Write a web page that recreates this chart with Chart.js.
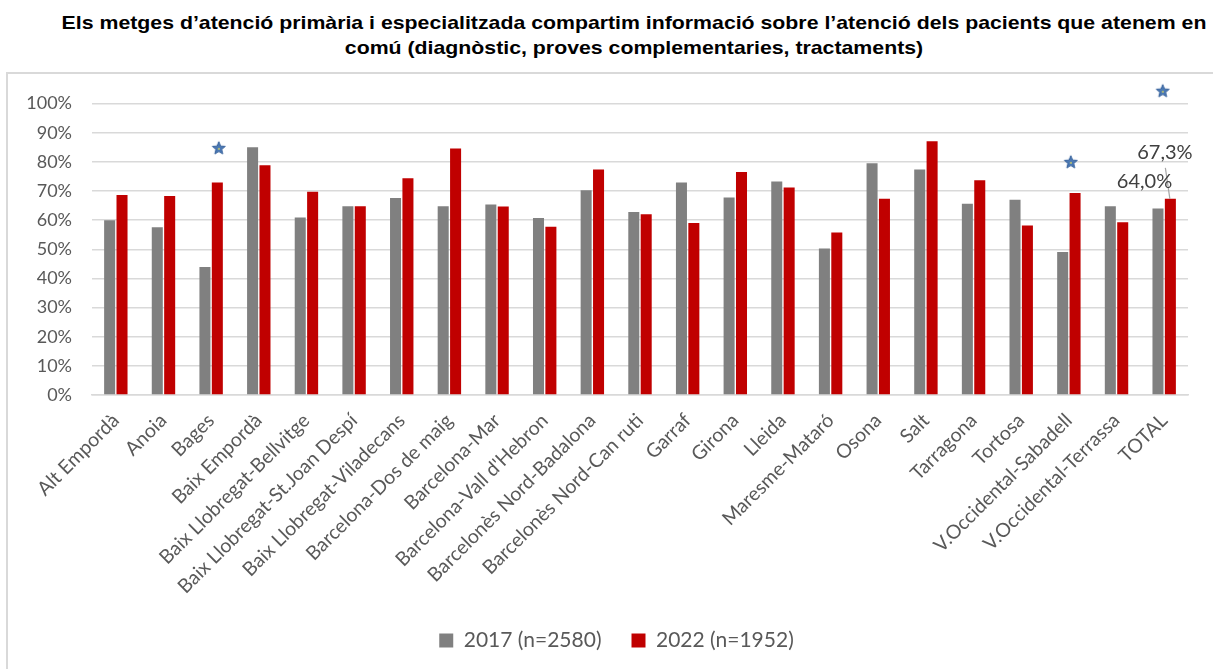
<!DOCTYPE html>
<html lang="ca">
<head>
<meta charset="utf-8">
<script src="https://cdn.jsdelivr.net/npm/chart.js@4/dist/chart.umd.min.js"></script>
<style>
  html, body { margin: 0; padding: 0; background: #ffffff; }
  body { width: 1213px; height: 669px; position: relative; overflow: hidden; }
  #title {
    position: absolute; left: 55px; top: 10px; width: 1158px;
    font: bold 19px "Liberation Sans", Arial, sans-serif; line-height: 25px;
    color: #000; text-align: center; white-space: nowrap;
    transform: scaleX(1.12); transform-origin: 579px 0;
  }
  #frame {
    position: absolute; left: 6px; top: 72px; width: 1300px; height: 700px;
    border: 2px solid #d9d9d9; box-sizing: border-box;
  }
  #wrap { position: absolute; left: 0; top: 0; width: 1213px; height: 669px; }
</style>
</head>
<body>
<div id="title">Els metges d’atenció primària i especialitzada compartim informació sobre l’atenció dels pacients que atenem en<br>comú (diagnòstic, proves complementaries, tractaments)</div>
<div id="frame"></div>
<div id="wrap"><canvas id="chart"></canvas></div>
<script>
// Health areas (categories) and the share of doctors agreeing, per survey year
const categories = [
  'Alt Empordà', 'Anoia', 'Bages', 'Baix Empordà', 'Baix Llobregat-Bellvitge',
  'Baix Llobregat-St.Joan Despí', 'Baix Llobregat-Viladecans', 'Barcelona-Dos de maig',
  'Barcelona-Mar', "Barcelona-Vall d'Hebron", 'Barcelonès Nord-Badalona',
  'Barcelonès Nord-Can ruti', 'Garraf', 'Girona', 'Lleida', 'Maresme-Mataró', 'Osona',
  'Salt', 'Tarragona', 'Tortosa', 'V.Occidental-Sabadell', 'V.Occidental-Terrassa', 'TOTAL'
];
const values2017 = [60.0, 57.6, 43.9, 85.0, 60.9, 64.8, 67.6, 64.8, 65.4, 60.7, 70.3, 62.8,
                    72.9, 67.8, 73.3, 50.3, 79.5, 77.4, 65.6, 67.0, 49.1, 64.8, 64.0];
const values2022 = [68.6, 68.3, 72.9, 78.8, 69.7, 64.8, 74.4, 84.6, 64.7, 57.7, 77.4, 62.0,
                    59.0, 76.5, 71.2, 55.8, 67.3, 87.1, 73.7, 58.2, 69.3, 59.3, 67.3];
const seriesNames = ['2017 (n=2580)', '2022 (n=1952)'];
const yTicks = [0, 10, 20, 30, 40, 50, 60, 70, 80, 90, 100];
// Significance markers: area, position offset within the category, height
const starCategories = ['Bages', 'V.Occidental-Sabadell', 'TOTAL'];
const starShift = [0.16, 0.04, -0.03];
const starHeights = [84.8, 80.0, 104.4];

const FONT = 'Lato, "Open Sans", sans-serif';
const AXIS_GREY = '#595959';

function starGlyph() {
  const c = document.createElement('canvas');
  c.width = 16; c.height = 16;
  const g = c.getContext('2d');
  g.beginPath();
  for (let i = 0; i < 10; i++) {
    const r = i % 2 ? 3.0 : 6.8;
    const a = -Math.PI / 2 + i * Math.PI / 5;
    g.lineTo(8 + r * Math.cos(a), 8.6 + r * Math.sin(a));
  }
  g.closePath();
  g.fillStyle = '#4a78b4';
  g.fill();
  g.lineWidth = 1;
  g.strokeStyle = '#35609a';
  g.stroke();
  g.fillStyle = '#e6e05a';
  g.fillRect(7.3, 8.2, 1.6, 1.6);
  return c;
}

// Value labels on the TOTAL pair, with a leader line for the 2022 value
const totalLabels = {
  id: 'totalLabels',
  afterDatasetsDraw(chart) {
    const idx = categories.indexOf('TOTAL');
    const b17 = chart.getDatasetMeta(0).data[idx];
    const b22 = chart.getDatasetMeta(1).data[idx];
    const fmt = v => v.toFixed(1).replace('.', ',') + '%';
    const ctx = chart.ctx;
    ctx.save();
    ctx.font = '20px ' + FONT;
    ctx.fillStyle = '#404040';
    ctx.textAlign = 'center';
    ctx.textBaseline = 'alphabetic';
    ctx.strokeStyle = '#a6a6a6';
    ctx.lineWidth = 1.2;
    ctx.beginPath();
    ctx.moveTo(b22.x - 5, b22.y - 31);
    ctx.lineTo(b22.x - 0.5, b22.y);
    ctx.stroke();
    ctx.fillText(fmt(values2022[idx]), b22.x - 5.5, b22.y - 40);
    ctx.fillText(fmt(values2017[idx]), b17.x - 13.5, b17.y - 20);
    ctx.restore();
  }
};

// Centre the legend row under the whole frame
const legendShift = {
  id: 'legendShift',
  afterLayout(chart) { chart.legend.left += 45; }
};

new Chart(document.getElementById('chart'), {
  type: 'bar',
  data: {
    labels: categories,
    datasets: [
      {
        label: seriesNames[0], data: values2017, backgroundColor: '#808080',
        categoryPercentage: 0.52, barPercentage: 0.89, order: 2
      },
      {
        label: seriesNames[1], data: values2022, backgroundColor: '#c00000',
        categoryPercentage: 0.52, barPercentage: 0.89, order: 2
      },
      {
        type: 'line', label: 'stars', order: 0, clip: false, showLine: false, parsing: false,
        data: starCategories.map((c, i) => ({ x: categories.indexOf(c) + starShift[i], y: starHeights[i] })),
        pointStyle: starGlyph(), pointRadius: 8, pointHoverRadius: 8
      }
    ]
  },
  options: {
    responsive: true,
    maintainAspectRatio: false,
    animation: false,
    devicePixelRatio: 1,
    layout: { padding: { top: 89, right: 25, left: 0, bottom: 8 } },
    plugins: {
      title: { display: false },
      tooltip: { enabled: false },
      legend: {
        position: 'bottom',
        labels: {
          filter: item => item.datasetIndex < 2,
          boxWidth: 14, boxHeight: 14, padding: 30,
          color: AXIS_GREY,
          font: { family: FONT, size: 21 }
        }
      }
    },
    scales: {
      x: {
        grid: { display: false, drawTicks: false },
        border: { display: true, color: '#d9d9d9', width: 1.5 },
        ticks: {
          color: AXIS_GREY, font: { family: FONT, size: 19.5 },
          maxRotation: 45, minRotation: 45, autoSkip: false, padding: 14
        },
        afterFit(scale) { scale.height = 205; }
      },
      y: {
        // headroom above 100% keeps the TOTAL marker inside the plot
        min: 0, max: 105,
        afterBuildTicks(scale) { scale.ticks = yTicks.map(v => ({ value: v })); },
        grid: { color: '#d9d9d9', lineWidth: 1.5, drawTicks: false },
        border: { display: false },
        ticks: {
          color: AXIS_GREY, font: { family: FONT, size: 18 }, padding: 20,
          callback: v => v + '%'
        },
        afterFit(scale) { scale.width = 92; }
      }
    }
  },
  plugins: [totalLabels, legendShift]
});
</script>
</body>
</html>
